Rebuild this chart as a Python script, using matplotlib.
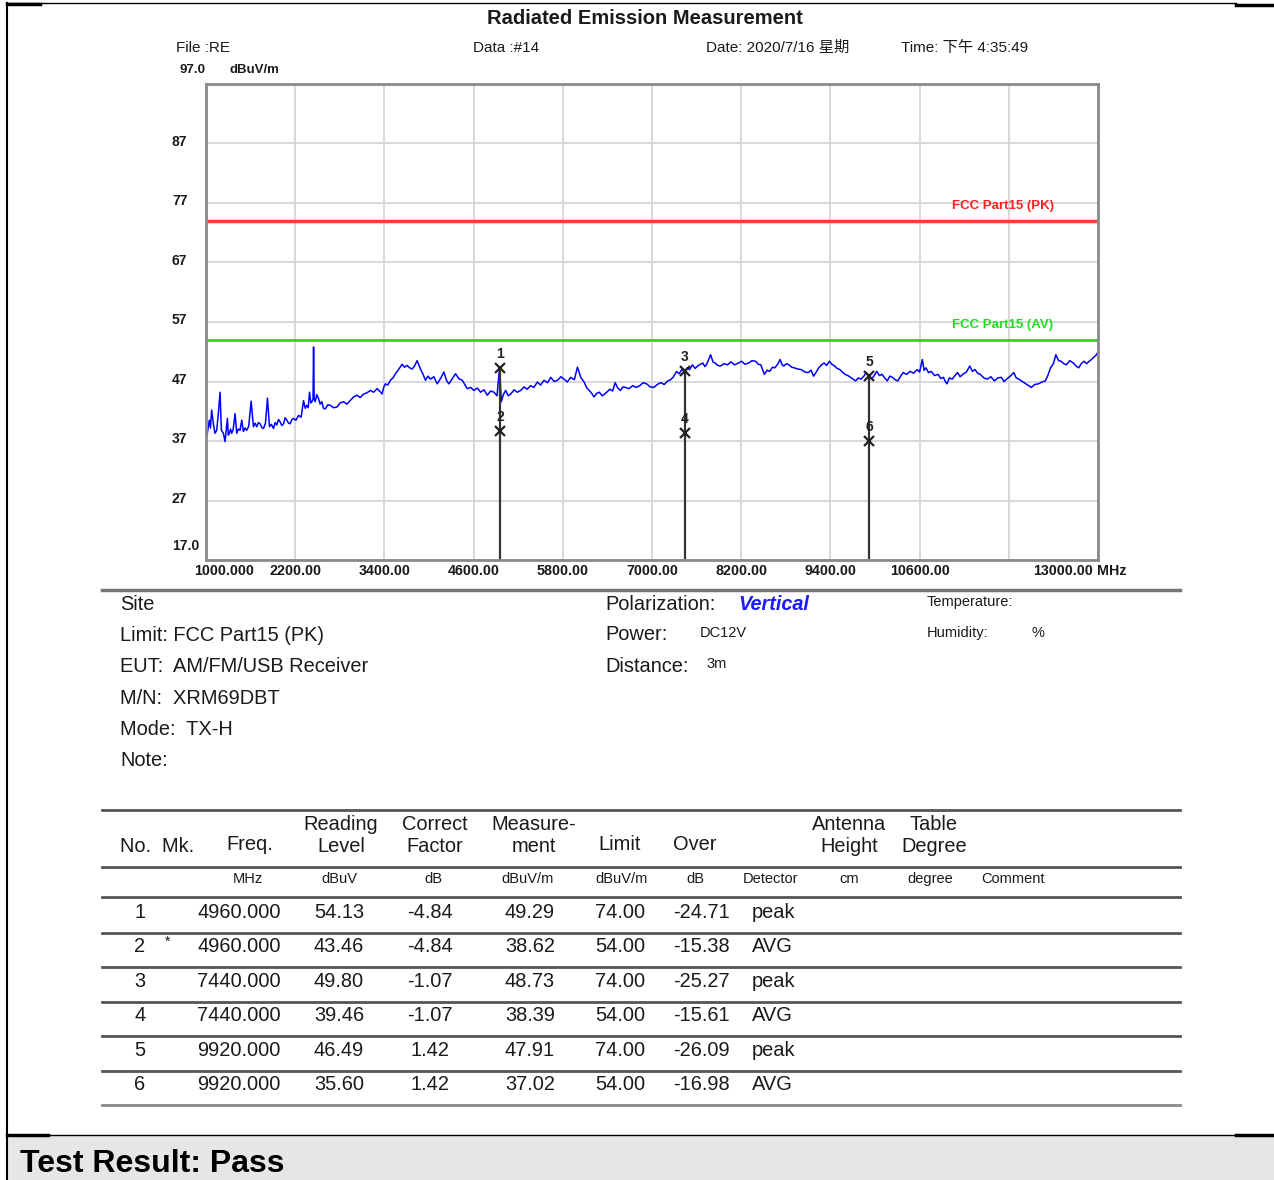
import matplotlib
matplotlib.use('Agg')
from matplotlib import pyplot as plt
from matplotlib.lines import Line2D
from matplotlib.patches import Rectangle

W, H = 1274, 1180
plt.rcParams['font.family'] = ['Liberation Sans', 'Noto Sans CJK SC', 'DejaVu Sans']

# spectrum trace (MHz, dBuV/m)
trace_freq = [1000, 1020, 1045, 1060, 1076, 1099, 1121, 1144, 1166, 1189, 1207, 1234, 1256, 1270, 1288,
              1300, 1315, 1330, 1346, 1365, 1391, 1413, 1435, 1458, 1481, 1503, 1525, 1548, 1575, 1607,
              1638, 1660, 1683, 1705, 1728, 1750, 1773, 1800, 1827, 1854, 1880, 1908, 1930, 1953, 1975,
              1998, 2020, 2043, 2065, 2088, 2110, 2132, 2155, 2177, 2210, 2245, 2280, 2312, 2335, 2357,
              2375, 2393, 2410, 2425, 2440, 2447, 2455, 2469, 2490, 2514, 2535, 2559, 2580, 2604, 2640,
              2672, 2715, 2762, 2805, 2851, 2895, 2941, 2985, 3031, 3075, 3121, 3165, 3211, 3255, 3301,
              3335, 3368, 3390, 3413, 3445, 3481, 3515, 3548, 3590, 3638, 3670, 3705, 3740, 3773, 3805,
              3840, 3862, 3885, 3920, 3953, 3985, 4020, 4065, 4110, 4155, 4200, 4235, 4267, 4310, 4357,
              4400, 4447, 4480, 4514, 4560, 4604, 4650, 4694, 4740, 4784, 4830, 4874, 4915, 4950, 4973,
              5000, 5031, 5065, 5099, 5145, 5188, 5235, 5278, 5320, 5368, 5410, 5458, 5500, 5548, 5595,
              5638, 5685, 5728, 5775, 5818, 5860, 5907, 5955, 5997, 6042, 6087, 6120, 6155, 6190, 6220,
              6255, 6291, 6330, 6362, 6400, 6433, 6470, 6504, 6540, 6575, 6610, 6646, 6690, 6740, 6790,
              6835, 6880, 6929, 6975, 7024, 7070, 7118, 7165, 7213, 7250, 7283, 7331, 7365, 7402, 7440,
              7472, 7505, 7543, 7580, 7614, 7650, 7685, 7710, 7732, 7789, 7820, 7850, 7885, 7921, 7970,
              8016, 8060, 8110, 8160, 8205, 8250, 8299, 8345, 8394, 8430, 8464, 8490, 8512, 8550, 8583,
              8620, 8653, 8690, 8724, 8750, 8772, 8810, 8842, 8880, 8913, 8960, 9008, 9055, 9102, 9140,
              9173, 9210, 9244, 9280, 9315, 9350, 9386, 9420, 9457, 9490, 9527, 9560, 9598, 9635, 9669,
              9705, 9740, 9775, 9811, 9850, 9882, 9920, 9953, 9990, 10023, 10060, 10094, 10130, 10165, 10200,
              10236, 10270, 10307, 10340, 10378, 10425, 10472, 10520, 10567, 10600, 10637, 10660, 10685, 10720, 10756,
              10800, 10850, 10885, 10921, 10945, 10968, 11000, 11039, 11075, 11110, 11145, 11181, 11230, 11275, 11310,
              11346, 11380, 11417, 11465, 11511, 11560, 11606, 11650, 11700, 11735, 11771, 11820, 11866, 11900, 11936,
              11970, 12007, 12055, 12102, 12150, 12196, 12245, 12291, 12325, 12362, 12400, 12433, 12470, 12504, 12540,
              12574, 12620, 12669, 12705, 12740, 12775, 12811, 12845, 12882, 12920, 12953, 12980, 13000]
trace_level = [36.9, 38.5, 40.5, 39.2, 42.2, 39.9, 38.3, 38.8, 41.6, 45.2, 38.8, 38.3, 36.9, 38.6, 40.8,
               38.0, 38.3, 39.0, 38.3, 38.9, 41.6, 38.3, 39.0, 38.8, 40.5, 38.6, 39.2, 38.8, 39.5, 43.7,
               39.4, 40.0, 39.4, 40.1, 39.9, 39.3, 39.1, 40.0, 44.2, 39.4, 39.8, 39.1, 40.1, 39.7, 40.6,
               40.2, 39.6, 39.9, 40.9, 40.5, 40.0, 39.9, 40.6, 40.8, 40.5, 41.3, 41.0, 43.8, 42.5, 43.0,
               42.6, 45.2, 43.4, 43.6, 44.0, 52.8, 44.0, 43.6, 44.8, 44.1, 43.2, 43.6, 42.5, 42.4, 43.1,
               43.0, 42.6, 42.7, 43.4, 43.6, 43.2, 43.8, 44.4, 44.7, 44.3, 44.9, 45.1, 45.5, 45.2, 45.8,
               45.4, 44.9, 46.0, 46.6, 46.4, 47.2, 47.6, 48.3, 49.0, 49.9, 49.4, 49.7, 49.3, 49.1, 49.6,
               50.5, 49.8, 49.1, 48.2, 47.2, 47.9, 47.4, 47.8, 46.6, 47.5, 48.6, 47.2, 46.6, 47.4, 48.3,
               47.5, 47.2, 46.5, 45.8, 46.0, 45.5, 45.9, 45.2, 45.6, 44.7, 45.4, 45.2, 44.6, 49.4, 43.6,
               44.8, 45.5, 44.6, 44.9, 45.6, 45.2, 45.5, 46.1, 45.7, 46.3, 46.0, 46.9, 46.4, 47.2, 46.8,
               47.7, 47.0, 47.2, 47.8, 47.4, 46.9, 47.7, 47.3, 49.4, 47.7, 46.9, 46.0, 45.5, 45.0, 44.4,
               45.0, 45.2, 44.6, 44.9, 45.3, 45.7, 45.4, 46.8, 45.9, 45.5, 46.1, 46.0, 45.8, 46.3, 46.0,
               46.3, 46.8, 46.6, 46.1, 46.0, 46.5, 46.8, 46.5, 47.1, 47.3, 47.7, 48.7, 48.3, 49.0, 48.7,
               49.3, 49.0, 49.8, 49.2, 49.6, 49.9, 50.1, 49.5, 49.8, 51.5, 50.3, 50.1, 49.7, 49.6, 50.0,
               49.8, 50.3, 49.8, 50.1, 50.4, 49.9, 50.1, 50.5, 50.4, 49.9, 49.8, 48.9, 48.2, 48.9, 48.7,
               49.4, 49.3, 49.9, 50.7, 49.8, 49.6, 50.0, 49.8, 49.4, 49.3, 49.1, 49.0, 48.6, 48.5, 48.9,
               47.9, 48.6, 49.3, 49.8, 50.1, 49.7, 50.4, 49.9, 49.6, 49.2, 49.0, 48.6, 48.2, 48.0, 47.7,
               47.4, 47.1, 47.6, 47.4, 47.9, 48.5, 47.9, 47.4, 48.0, 48.7, 48.0, 48.2, 47.6, 47.1, 47.9,
               47.7, 47.3, 47.1, 47.8, 48.5, 48.2, 48.7, 48.4, 49.0, 48.6, 50.7, 48.9, 49.3, 48.5, 48.7,
               48.0, 48.2, 47.5, 47.7, 47.0, 46.6, 47.6, 47.4, 48.0, 48.5, 47.8, 48.2, 48.6, 49.6, 48.7,
               49.0, 48.4, 48.2, 47.6, 47.4, 47.8, 47.1, 47.6, 47.7, 47.0, 47.4, 47.9, 48.5, 47.6, 47.4,
               47.1, 46.8, 46.4, 46.0, 46.5, 46.6, 46.9, 47.1, 48.0, 49.3, 50.0, 51.5, 50.5, 50.4, 50.0,
               49.8, 50.5, 50.1, 49.6, 49.3, 50.0, 50.4, 50.0, 50.4, 50.8, 51.2, 51.5, 52.0]

pk_limit = 74.0
av_limit = 54.0

x_ticks = [1000, 2200, 3400, 4600, 5800, 7000, 8200, 9400, 10600, 11800, 13000]
x_tick_labels = ['1000.000', '2200.00', '3400.00', '4600.00', '5800.00', '7000.00',
                 '8200.00', '9400.00', '10600.00', '', '13000.00']
y_ticks = [17, 27, 37, 47, 57, 67, 77, 87]
y_tick_labels = ['17.0', '27', '37', '47', '57', '67', '77', '87']

# final measurement table
mark_no = [1, 2, 3, 4, 5, 6]
mark_flag = ['', '*', '', '', '', '']
freq = [4960.000, 4960.000, 7440.000, 7440.000, 9920.000, 9920.000]
reading = [54.13, 43.46, 49.80, 39.46, 46.49, 35.60]
correct = [-4.84, -4.84, -1.07, -1.07, 1.42, 1.42]
measurement = [49.29, 38.62, 48.73, 38.39, 47.91, 37.02]
limit = [74.00, 54.00, 74.00, 54.00, 74.00, 54.00]
over = [-24.71, -15.38, -25.27, -15.61, -26.09, -16.98]
detector = ['peak', 'AVG', 'peak', 'AVG', 'peak', 'AVG']

TXT = '#1a1a1a'
BIG = 14.4

fig = plt.figure(figsize=(W / 100, H / 100), dpi=100)


def fx(x):
    return x / W


def fy(y):
    return 1 - y / H


def ftext(x, y, s, **kw):
    kw.setdefault('color', TXT)
    kw.setdefault('va', 'center')
    fig.text(fx(x), fy(y), s, **kw)


def hline(y, x0, x1, **kw):
    fig.add_artist(Line2D([fx(x0), fx(x1)], [fy(y), fy(y)], transform=fig.transFigure, **kw))


# page frame and result band
fig.add_artist(Rectangle((fx(7), 0), fx(W) - fx(7), fy(1136), transform=fig.transFigure,
                         facecolor='#e6e6e6', edgecolor='none'))
fig.add_artist(Line2D([fx(7), fx(7)], [fy(3), fy(H)], transform=fig.transFigure, color='black', lw=1.5))
hline(3, 7, 1236, color='black', lw=1.0)
hline(4, 7, 40, color='black', lw=2.5)
hline(5, 1236, W, color='black', lw=2.5)
hline(1135, 7, 1236, color='black', lw=1.0)
hline(1135, 7, 48, color='black', lw=2.5)
hline(1135, 1236, W, color='black', lw=2.5)
ftext(20, 1164, 'Test Result: Pass', fontsize=23, fontweight='bold', color='black')

# header
ftext(645, 19, 'Radiated Emission Measurement', fontsize=14.5, fontweight='bold', ha='center')
ftext(176, 48, 'File :RE', fontsize=11)
ftext(473, 48, 'Data :#14', fontsize=11)
ftext(706, 48, 'Date: 2020/7/16 星期', fontsize=11)
ftext(901, 48, 'Time: 下午 4:35:49', fontsize=11)
ftext(179, 70, '97.0', fontsize=9.5, fontweight='bold')
ftext(230, 70, 'dBuV/m', fontsize=9.5, fontweight='bold')

# scan plot
ax = fig.add_axes([fx(206), fy(560), fx(1098) - fx(206), fy(84) - fy(560)])
ax.set_xlim(1000, 13000)
ax.set_ylim(17, 97)
ax.set_xticks(x_ticks)
ax.set_yticks(y_ticks)
ax.tick_params(length=0, labelbottom=False, labelleft=False)
ax.grid(color='#d6d6d6', lw=1.3)
ax.set_axisbelow(True)
for s in ax.spines.values():
    s.set_color('#8a8a8a')
    s.set_linewidth(2)

ax.axhline(pk_limit, color='#ff3838', lw=2.5)
ax.axhline(av_limit, color='#22dd22', lw=2)
ax.annotate('FCC Part15 (PK)', (1, pk_limit), xycoords=('axes fraction', 'data'), xytext=(-32, 11),
            textcoords='offset points', ha='right', va='center', fontsize=9.5, fontweight='bold', color='#ff2020')
ax.annotate('FCC Part15 (AV)', (1, av_limit), xycoords=('axes fraction', 'data'), xytext=(-32, 11),
            textcoords='offset points', ha='right', va='center', fontsize=9.5, fontweight='bold', color='#20dd20')

ax.plot(trace_freq, trace_level, color='#0000ff', lw=1.1)

for i in range(0, len(freq), 2):
    ax.vlines(freq[i], 17, max(measurement[i], measurement[i + 1]), color='#333333', lw=1.6)
ax.plot(freq, measurement, 'x', color='#222222', ms=7, mew=1.6)
for n, f, m in zip(mark_no, freq, measurement):
    ax.annotate(str(n), (f, m), xytext=(0, 10), textcoords='offset points', ha='center', va='center',
                fontsize=10, fontweight='bold', color='#222222')

for t, lab in zip(x_ticks, x_tick_labels):
    if not lab:
        continue
    dx, ha = 0, 'center'
    if t == x_ticks[0]:
        dx = 13
    elif t == x_ticks[-1]:
        dx, ha = -3.6, 'right'
    ax.annotate(lab, (t, 0), xycoords=('data', 'axes fraction'), xytext=(dx, -8), textcoords='offset points',
                ha=ha, va='center', fontsize=10.3, fontweight='bold', color=TXT)
ax.annotate('MHz', (x_ticks[-1], 0), xycoords=('data', 'axes fraction'), xytext=(-0.7, -8),
            textcoords='offset points', ha='left', va='center', fontsize=10.3, fontweight='bold', color=TXT)

for t, lab in zip(y_ticks, y_tick_labels):
    dy = 10 if t == y_ticks[0] else 1.4
    ax.annotate(lab, (0, t), xycoords=('axes fraction', 'data'), xytext=(-24.5, dy), textcoords='offset points',
                ha='left', va='center', fontsize=10, fontweight='bold', color=TXT)

# info block
hline(590, 102, 1180, color='#777777', lw=2.5)
info_left = ['Site', 'Limit: FCC Part15 (PK)', 'EUT:  AM/FM/USB Receiver', 'M/N:  XRM69DBT', 'Mode:  TX-H', 'Note:']
for k, s in enumerate(info_left):
    ftext(120, 604 + k * 31.4, s, fontsize=BIG)
ftext(605, 604, 'Polarization:', fontsize=BIG)
ftext(738, 604, 'Vertical', fontsize=14.3, fontweight='bold', style='italic', color='#1a1aff')
ftext(605, 635, 'Power:', fontsize=BIG)
ftext(700, 633, 'DC12V', fontsize=10.5)
ftext(605, 667, 'Distance:', fontsize=BIG)
ftext(706, 664, '3m', fontsize=10.5)
ftext(927, 602, 'Temperature:', fontsize=10.5)
ftext(927, 633, 'Humidity:', fontsize=10.5)
ftext(1032, 633, '%', fontsize=10.5)

# measurement table
rule = dict(color='#555555', lw=2)
hline(810, 102, 1180, **rule)
hline(867, 102, 1180, **rule)
hline(897, 102, 1180, **rule)

ftext(120, 846, 'No.  Mk.', fontsize=BIG)
head = [(250, 'Freq.'), (620, 'Limit'), (695, 'Over')]
for x, s in head:
    ftext(x, 845, s, fontsize=BIG, ha='center')
two_line = [(341, 'Reading', 'Level'), (435, 'Correct', 'Factor'), (534, 'Measure-', 'ment'),
            (849, 'Antenna', 'Height'), (934, 'Table', 'Degree')]
for x, a, b in two_line:
    ftext(x, 824, a, fontsize=BIG, ha='center')
    ftext(x, 847, b, fontsize=BIG, ha='center')

units = [(248, 'MHz'), (339, 'dBuV'), (433, 'dB'), (528, 'dBuV/m'), (622, 'dBuV/m'), (695, 'dB'),
         (771, 'Detector'), (849, 'cm'), (930, 'degree'), (1013, 'Comment')]
for x, s in units:
    ftext(x, 879, s, fontsize=10.5, ha='center')

row_y0, row_h = 912, 34.6
for i in range(len(mark_no)):
    y = row_y0 + i * row_h
    ftext(140, y, str(mark_no[i]), fontsize=BIG, ha='center')
    if mark_flag[i]:
        ftext(168, y - 5, mark_flag[i], fontsize=10, ha='center')
    ftext(281, y, f'{freq[i]:.3f}', fontsize=BIG, ha='right')
    ftext(339, y, f'{reading[i]:.2f}', fontsize=BIG, ha='center')
    ftext(430, y, f'{correct[i]:.2f}', fontsize=BIG, ha='center')
    ftext(530, y, f'{measurement[i]:.2f}', fontsize=BIG, ha='center')
    ftext(620, y, f'{limit[i]:.2f}', fontsize=BIG, ha='center')
    ftext(701, y, f'{over[i]:.2f}', fontsize=BIG, ha='center')
    ftext(752, y, detector[i], fontsize=BIG)
    line_y = 933 + i * 34.4
    hline(line_y, 102, 1180, color='#555555' if i < 5 else '#888888', lw=2)

fig.savefig('out.png', dpi=100)
